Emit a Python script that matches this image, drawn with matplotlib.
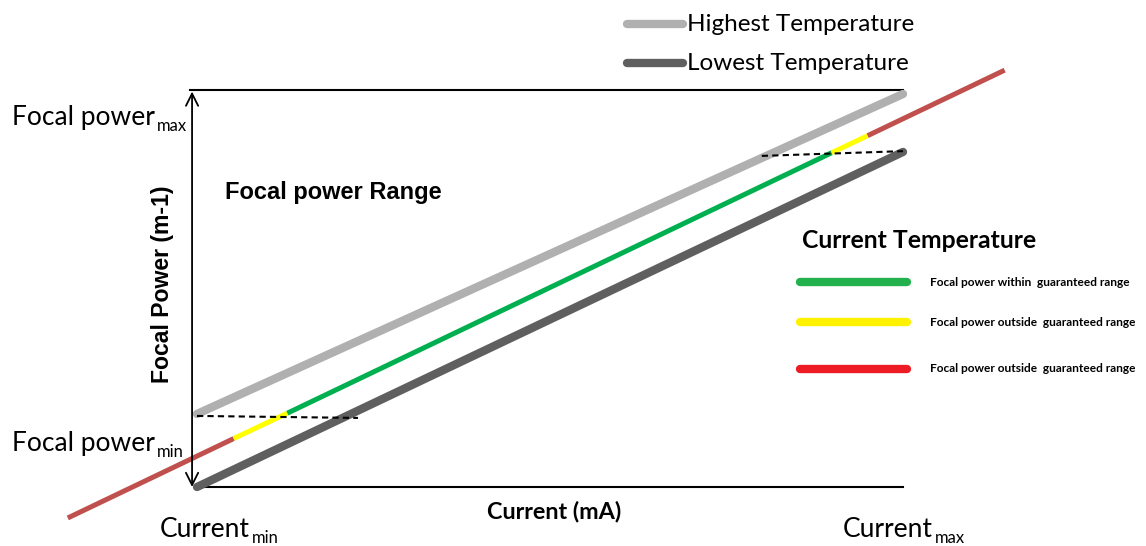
import numpy as np
import matplotlib
matplotlib.use("Agg")
import matplotlib.pyplot as plt

# current in % of range (0 = Current_min, 100 = Current_max)
# focal power in % of range (0 = Focal power_min ... 100 = max of box)
high_current = [0, 100]
high_focal = [18.4, 99.0]
low_current = [0, 100]
low_focal = [0, 84.4]

# current temperature curve, split at colour changes
cur_x = [-18.3, 5.2, 12.8, 89.9, 95.0, 114.4]
cur_y = [-7.8, 12.2, 18.6, 84.2, 88.5, 105.0]
seg_colors = ['#c0504d', '#ffff00', '#00b050', '#ffff00', '#c0504d']

dash_low_x = [0, 22.8]
dash_low_y = [17.9, 17.4]
dash_high_x = [80.0, 100]
dash_high_y = [83.4, 84.6]

legend_small = ['Focal power within  guaranteed range',
                'Focal power outside  guaranteed range',
                'Focal power outside  guaranteed range']
legend_small_colors = ['#22b14c', '#fff200', '#ed1c24']

W, H = 1146, 546
fig = plt.figure(figsize=(W/100, H/100), dpi=100)
ax = fig.add_axes([0, 0, 1, 1])
ax.axis('off')

# pixel mapping of the box
C0, CW, F0, FH = 197, 7.06, 487, 3.97
ax.set_xlim(-C0/CW, (W-C0)/CW)
ax.set_ylim((F0-H)/FH, F0/FH)

def px(x, y):
    return x/W, 1 - y/H

cal = 'Lato'
arial = 'Liberation Sans'
renderer = fig.canvas.get_renderer()

def sub_label(x, y, main, sub, size=19, subsize=12, drop=6):
    t = fig.text(*px(x, y), main, fontsize=size, family=cal, va='baseline')
    bb = t.get_window_extent(renderer)
    fig.text(*px(bb.x1 + 2, y + drop), sub, fontsize=subsize, family=cal,
             va='baseline')

# frame lines
ax.plot([-1, 100], [100, 100], color='black', lw=1.5)
ax.plot([0.5, 100], [0, 0], color='black', lw=1.5)
ax.annotate('', xy=(-0.7, 99.6), xytext=(-0.7, 0),
            arrowprops=dict(arrowstyle='<->', lw=1.3, color='black',
                            mutation_scale=22, shrinkA=0, shrinkB=0))

ax.plot(high_current, high_focal, color='#b0b0b0', lw=6, solid_capstyle='round')
ax.plot(low_current, low_focal, color='#5f5f5f', lw=6, solid_capstyle='round')

for i in range(len(seg_colors)):
    ax.plot(cur_x[i:i+2], cur_y[i:i+2], color=seg_colors[i], lw=3.6,
            solid_capstyle='butt')

ax.plot(dash_low_x, dash_low_y, color='black', ls=(0, (3, 2)), lw=1.5)
ax.plot(dash_high_x, dash_high_y, color='black', ls=(0, (3, 2)), lw=1.5)

# labels with subscripts
sub_label(12, 125, 'Focal power', 'max')
sub_label(12, 451, 'Focal power', 'min')
sub_label(160, 537, 'Current', 'min')
sub_label(843, 537, 'Current', 'max')

fig.text(*px(225, 192), 'Focal power Range', fontsize=17, family=arial,
         weight='bold', va='center')
fig.text(*px(163, 284), 'Focal Power (m-1)', fontsize=16.6, family=arial,
         weight='bold', va='center', ha='center', rotation=90)
fig.text(*px(554, 511), 'Current (mA)', fontsize=16.8, family=cal,
         weight='bold', va='center', ha='center')

# top legend
leg_y = [24, 63]
leg_c = ['#b0b0b0', '#5f5f5f']
leg_t = ['Highest Temperature', 'Lowest Temperature']
for y, c, t in zip(leg_y, leg_c, leg_t):
    fig.add_artist(plt.Line2D([627/W, 683/W], [1-y/H, 1-y/H], color=c, lw=6,
                              solid_capstyle='round'))
    fig.text(*px(687, y+7), t, fontsize=17.5, family=cal, va='baseline')

# current temperature legend
fig.text(*px(802, 248), 'Current Temperature', fontsize=17.8, family=cal,
         weight='bold', va='baseline')
small_y = [282, 322, 369]
for y, c, t in zip(small_y, legend_small_colors, legend_small):
    fig.add_artist(plt.Line2D([800/W, 907/W], [1-y/H, 1-y/H], color=c, lw=6,
                              solid_capstyle='round'))
    fig.text(*px(930, y), t, fontsize=8.6, family=cal, weight='bold', va='center')

fig.savefig('out.png', dpi=100)
